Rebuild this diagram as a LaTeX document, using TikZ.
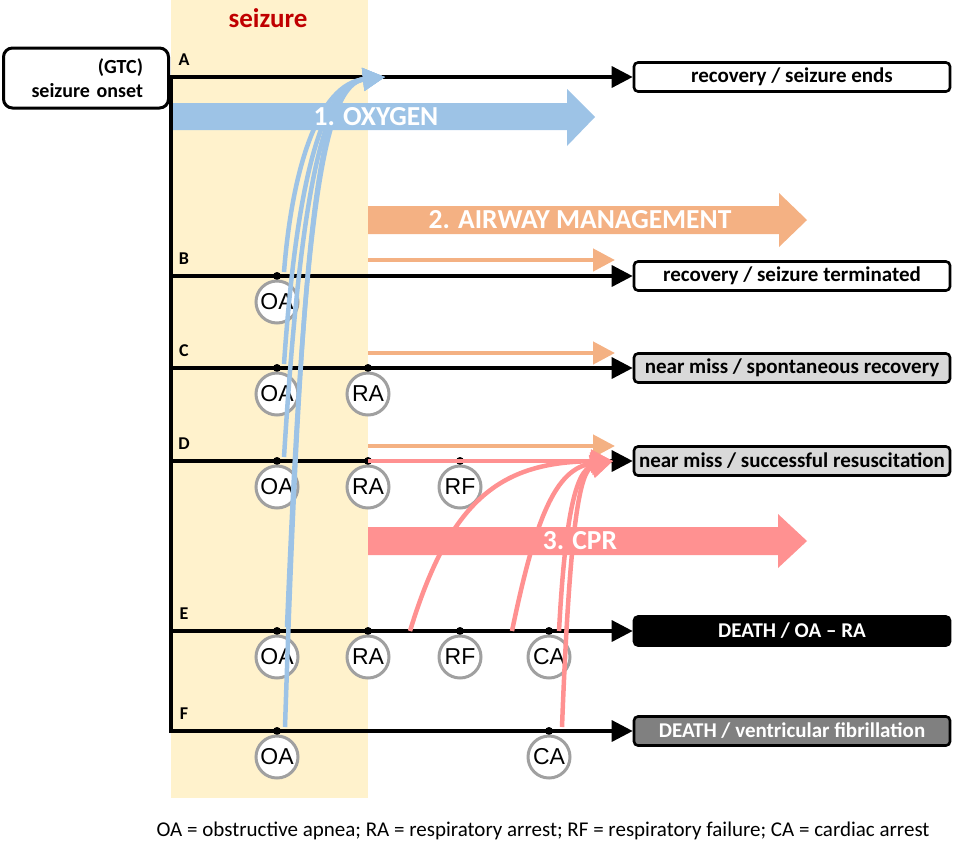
\documentclass[tikz,border=0pt]{standalone}
\usepackage{fontspec}
\setmainfont{Carlito}
\newfontfamily\circfont{Liberation Sans}
\usetikzlibrary{arrows.meta, positioning, calc}
\definecolor{seizurebg}{RGB}{255,242,204}
\definecolor{oxyblue}{RGB}{157,195,230}
\definecolor{airorange}{RGB}{244,177,131}
\definecolor{cprred}{RGB}{255,145,145}
\definecolor{darkred}{RGB}{192,0,0}
\definecolor{ringgray}{RGB}{160,160,160}
\definecolor{boxgray}{RGB}{217,217,217}
\definecolor{deathgray}{RGB}{128,128,128}
\tikzset{
  outcome/.style={draw, rounded corners=4pt, line width=2.6pt, fill=#1, minimum width=316pt, minimum height=29pt, inner sep=0pt, font=\bfseries\fontsize{21}{22}\selectfont},
  event/.style={circle, draw=ringgray, line width=3pt, fill=white, minimum size=42pt, inner sep=0pt, font=\circfont\fontsize{23}{24}\selectfont},
  timeline/.style={line width=3.4pt, -{Triangle[length=21pt,width=21pt]}},
  rowlabel/.style={font=\bfseries\fontsize{18}{19}\selectfont},
  tdot/.style={circle, fill=black, inner sep=0pt, minimum size=8pt},
  thinarrow/.style={line width=4.5pt, draw=#1, -{Triangle[length=22pt,width=22pt,fill=#1]}},
  widelabel/.style={text=white, font=\bfseries\fontsize{27.5}{28}\selectfont},
}
\begin{document}
\begin{tikzpicture}[x=1pt, y=-1pt]
\useasboundingbox (0,0) rectangle (957,852);
% seizure phase
\fill[seizurebg] (171,0) rectangle (368,798);
\node[font=\bfseries\fontsize{27}{28}\selectfont, text=darkred] (phase) at (268,18) {seizure};

% wide treatment arrows
\fill[oxyblue] (171,103) -- (567,103) -- (567,89) -- (595,117) -- (567,146) -- (567,130) -- (171,130) -- cycle;
\fill[airorange] (368,206) -- (779,206) -- (779,193) -- (807,220) -- (779,247) -- (779,234) -- (368,234) -- cycle;
\fill[cprred] (368,527) -- (778,527) -- (778,514) -- (807,541) -- (778,568) -- (778,555) -- (368,555) -- cycle;

% onset and outcomes
\node[draw, line width=3pt, rounded corners=9pt, minimum width=165pt, minimum height=60pt,
  text width=114pt, align=right, font=\bfseries\fontsize{20}{24}\selectfont] (onset) at (86,78) {(GTC)\\seizure onset};
\node[outcome=white] (oA) at (792,77) {recovery / seizure ends};
\node[outcome=white] (oB) at (792,276) {recovery / seizure terminated};
\node[outcome=boxgray] (oC) at (792,368) {near miss / spontaneous recovery};
\node[outcome=boxgray] (oD) at (792,461) {near miss / successful resuscitation};
\node[outcome=black, text=white] (oE) at (792,631) {DEATH / OA -- RA};
\node[outcome=deathgray, text=white] (oF) at (792,731) {DEATH / ventricular fibrillation};

% time lines
\foreach \r/\y in {A/77,B/276,C/368,D/461,E/631,F/731}{
  \coordinate (s\r) at (171,\y);
  \node[rowlabel] (l\r) at (184,\y-17) {\r};
}
\draw[line width=3.4pt, line cap=rect] (sA) -- (sF);
\foreach \r in {A,...,F}
  \draw[timeline] (s\r) -- (o\r.west);

% events
\foreach \r/\y in {B/276,C/368,D/461,E/631,F/731}{
  \node[tdot] (d\r-OA) at (277,\y) {};
  \node[event] (\r-OA) at (277,\y+26) {OA};
}
\foreach \r/\y in {C/368,D/461,E/631}{
  \node[tdot] (d\r-RA) at (368,\y) {};
  \node[event] (\r-RA) at (368,\y+26) {RA};
}
\foreach \r/\y in {D/461,E/631}{
  \node[tdot] (d\r-RF) at (460,\y) {};
  \node[event] (\r-RF) at (460,\y+26) {RF};
}
\foreach \r/\y in {E/631,F/731}{
  \node[tdot] (d\r-CA) at (549,\y) {};
  \node[event] (\r-CA) at (549,\y+26) {CA};
}

% airway management
\coordinate (aB) at (615,260);
\coordinate (aC) at (615,353);
\coordinate (aD) at (615,446);
\draw[thinarrow=airorange] (368,260) -- (aB);
\draw[thinarrow=airorange] (368,353) -- (aC);
\draw[thinarrow=airorange] (368,446) -- (aD);

% oxygen
\coordinate (oxytip) at (385,77);
\begin{scope}[thinarrow=oxyblue, line width=4.5pt]
\draw ([xshift=7pt,yshift=4pt]dB-OA.center) .. controls (292,170) and (318,84) .. (oxytip);
\draw ([xshift=7pt,yshift=4pt]dC-OA.center) .. controls (296,190) and (320,84) .. (oxytip);
\draw ([xshift=7pt,yshift=4pt]dD-OA.center) .. controls (300,200) and (322,84) .. (oxytip);
\draw ([xshift=10pt,yshift=4pt]dE-OA.center) .. controls (304,210) and (324,84) .. (oxytip);
\draw ([xshift=8pt,yshift=4pt]dF-OA.center) .. controls (302,210) and (320,84) .. (oxytip);
\end{scope}

% cpr
\coordinate (cprtip) at (613,461);
\begin{scope}[thinarrow=cprred]
\draw (dD-RA.center) -- (cprtip);
\draw (410,631) .. controls (450,500) and (500,462) .. (cprtip);
\draw (512,631) .. controls (535,520) and (555,468) .. (cprtip);
\draw ([xshift=10pt]dE-CA.center) .. controls (565,520) and (575,470) .. (cprtip);
\draw ([xshift=13pt,yshift=4pt]dF-CA.center) .. controls (570,520) and (580,470) .. (cprtip);
\end{scope}

% treatment labels
\node[widelabel] (oxylabel) at (376,117) {1. OXYGEN};
\node[widelabel] (airlabel) at (580,220) {2. AIRWAY MANAGEMENT};
\node[widelabel] (cprlabel) at (580,541) {3. CPR};

% legend
\node[font=\fontsize{21}{22}\selectfont] (legend) at (543,831) {OA = obstructive apnea; RA = respiratory arrest; RF = respiratory failure; CA = cardiac arrest};
\end{tikzpicture}
\end{document}
